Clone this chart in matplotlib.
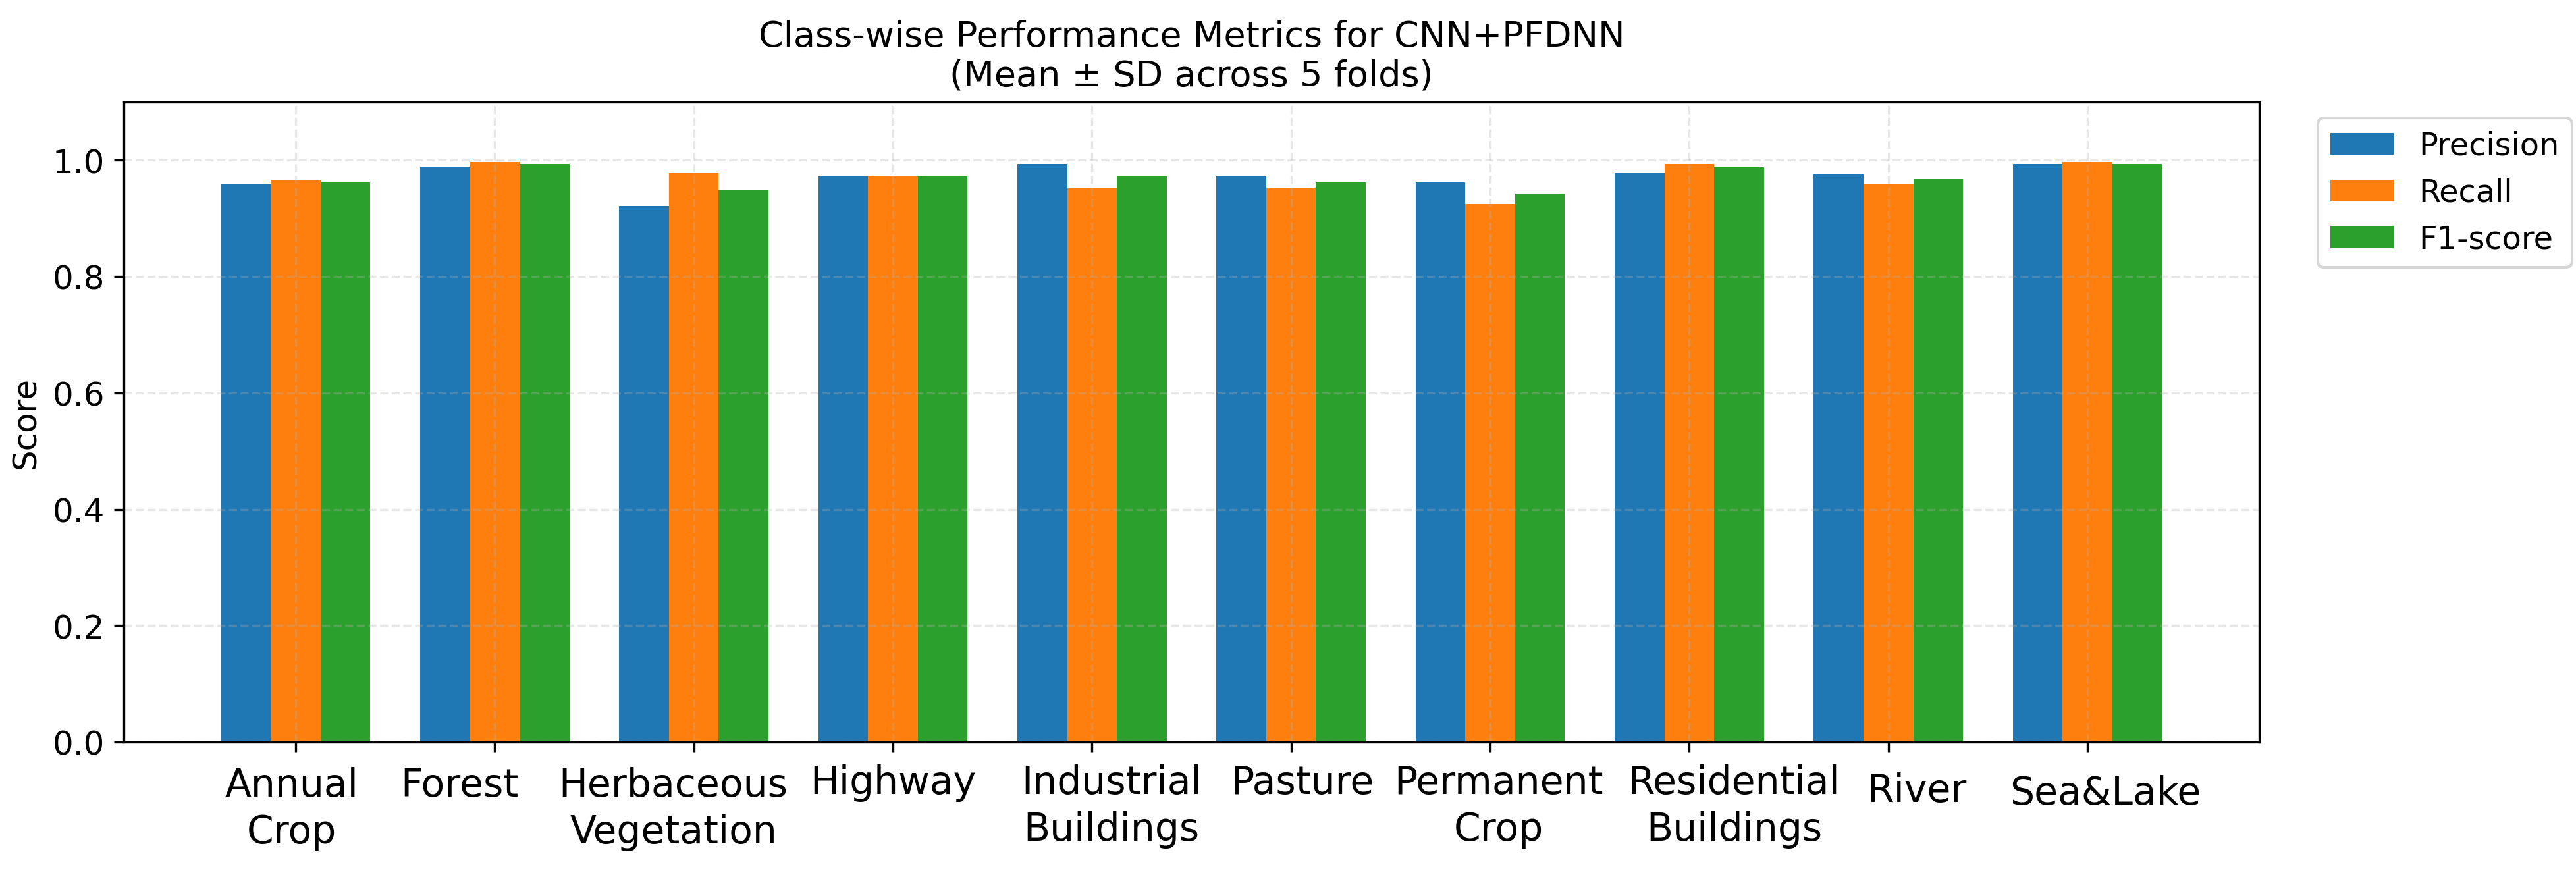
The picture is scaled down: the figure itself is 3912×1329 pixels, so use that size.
import numpy as np
import matplotlib
matplotlib.use('agg')
import matplotlib.pyplot as plt
from matplotlib.transforms import ScaledTranslation

classes = ['Annual\nCrop', 'Forest', 'Herbaceous\nVegetation', 'Highway', 'Industrial\nBuildings',
           'Pasture', 'Permanent\nCrop', 'Residential\nBuildings', 'River', 'Sea&Lake']

precision = [0.959, 0.988, 0.921, 0.972, 0.994, 0.972, 0.962, 0.978, 0.975, 0.994]
recall    = [0.966, 0.997, 0.978, 0.972, 0.953, 0.953, 0.924, 0.994, 0.959, 0.997]
f1_score  = [0.962, 0.994, 0.949, 0.972, 0.972, 0.962, 0.943, 0.988, 0.968, 0.994]

metric_names = ['Precision', 'Recall', 'F1-score']

# hand nudges of the tick labels in the original (pixels at 300 dpi, +x right, +y down)
label_dx = [-6, -53, -31, 0, 30, 17, 13, 68, 43, 27]
label_dy = [0, 0, 0, -4, -4, -4, -4, -4, 8, 12]

#########################################################################

fig1 = plt.figure(1, figsize=(13.043, 4.433), dpi=300)
ax1 = fig1.add_axes([0.0481, 0.1519, 0.8287, 0.7309])

x = np.arange(len(classes))
width = 0.25

ax1.bar(x - width, precision, width, label=metric_names[0])
ax1.bar(x, recall, width, label=metric_names[1])
ax1.bar(x + width, f1_score, width, label=metric_names[2])

ax1.set_ylim(0, 1.1)
ax1.set_xticks(x)
ax1.set_xticklabels(classes, fontsize=14, linespacing=1.3)
ax1.tick_params(axis='x', pad=5.5)
ax1.tick_params(axis='y', labelsize=12)
ax1.set_ylabel('Score', fontsize=12)
ax1.set_title('Class-wise Performance Metrics for CNN+PFDNN\n(Mean \u00b1 SD across 5 folds)', fontsize=13)

for lab, dx, dy in zip(ax1.get_xticklabels(), label_dx, label_dy):
    lab.set_transform(lab.get_transform() + ScaledTranslation(dx / 300.0, -dy / 300.0, fig1.dpi_scale_trans))

ax1.grid(True, linestyle='--', alpha=0.3)
ax1.legend(bbox_to_anchor=(1.02, 1), loc='upper left', fontsize=11.5)

fig1.savefig('out.png', dpi=300)
